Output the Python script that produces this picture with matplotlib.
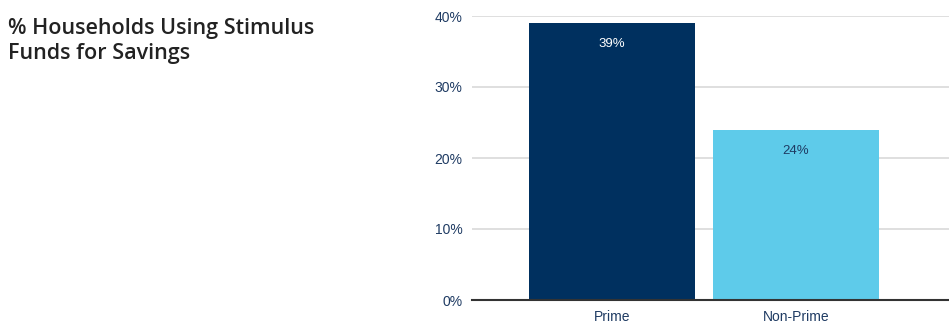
import matplotlib
matplotlib.use("Agg")
import matplotlib.pyplot as plt
from matplotlib.ticker import FuncFormatter

categories = ["Prime", "Non-Prime"]
values = [39, 24]
labels = ["39%", "24%"]
bar_colors = ["#00305F", "#5ECBEA"]
label_colors = ["#FFFFFF", "#1F3B63"]
yticks = [0, 10, 20, 30, 40]

plt.rcParams['font.family'] = ['Liberation Sans', 'DejaVu Sans']

fig = plt.figure(figsize=(9.49, 3.26), dpi=100)
ax = fig.add_axes([472/949, 1-300/326, (949-472)/949, (300-16)/326])

x = list(range(len(categories)))
ax.bar(x, values, width=0.9, color=bar_colors, zorder=3)
for xi, v, lab, c in zip(x, values, labels, label_colors):
    ax.text(xi, v - 2.95, lab, ha='center', va='center', color=c, fontsize=9.5, zorder=4)

ax.set_ylim(0, 40)
ax.set_xlim(-0.761, 1.832)
ax.set_yticks(yticks)
ax.yaxis.set_major_formatter(FuncFormatter(lambda v, p: f"{int(v)}%"))
ax.set_xticks(x)
ax.set_xticklabels(categories)
ax.grid(axis='y', color='#D9D9D9', linewidth=1.2, zorder=0)
for s in ['top', 'right', 'left']:
    ax.spines[s].set_visible(False)
ax.spines['bottom'].set_color('#333333')
ax.spines['bottom'].set_linewidth(1.5)
ax.spines['bottom'].set_zorder(5)
ax.tick_params(axis='both', length=0, labelsize=10, colors='#1F3B63')
ax.tick_params(axis='y', pad=7)
ax.tick_params(axis='x', pad=7)

fig.text(8/949, 1-41/326, "% Households Using Stimulus\nFunds for Savings", ha='left', va='center',
         fontsize=15.5, fontweight='semibold', color='#222222', linespacing=1.22,
         family=['Open Sans', 'DejaVu Sans'])

fig.savefig("out.png", dpi=100)
